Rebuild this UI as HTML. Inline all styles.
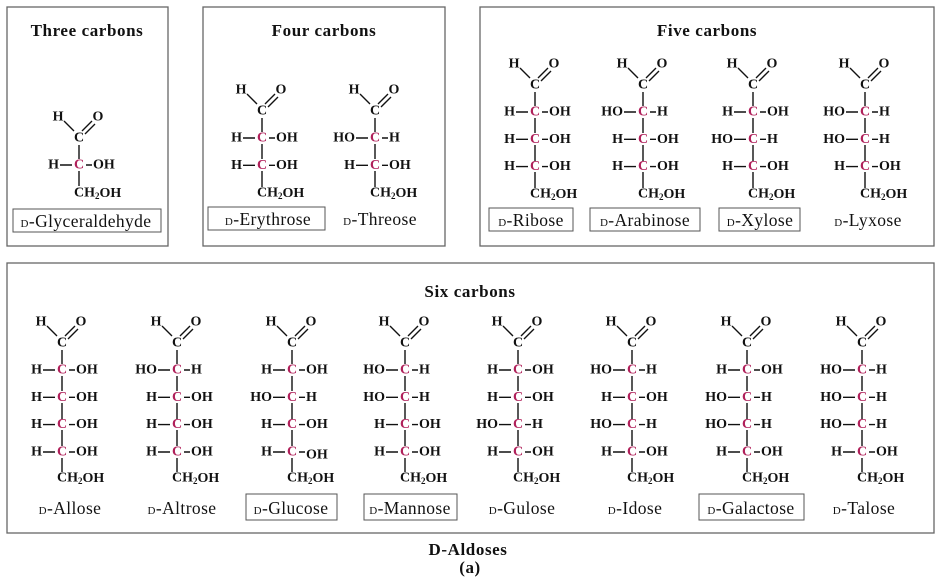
<!DOCTYPE html>
<html><head><meta charset="utf-8"><style>
body{margin:0;background:#fff}
svg{display:block}
text{font-family:"Liberation Serif",serif;fill:#111}
.s text{font-size:14px;font-weight:bold;dominant-baseline:central}
.s .c{fill:#b0205a;text-anchor:middle}
.s .m{text-anchor:middle}
.s .e{text-anchor:end}
.s path{stroke:#111;stroke-width:1.4;fill:none}
.t{font-size:17px;font-weight:bold;text-anchor:middle;letter-spacing:0.6px}
.l{font-size:17.5px;text-anchor:middle;letter-spacing:0.4px}
.l tspan.d{font-size:11px}
.bx{fill:none;stroke:#666;stroke-width:1.3}
.lb{fill:none;stroke:#555;stroke-width:1}
</style></head><body>
<svg width="942" height="584" viewBox="0 0 942 584" xmlns="http://www.w3.org/2000/svg">
<rect class="bx" x="7" y="7" width="161" height="239"/>
<rect class="bx" x="203" y="7" width="242" height="239"/>
<rect class="bx" x="480" y="7" width="454" height="239"/>
<rect class="bx" x="7" y="263" width="927" height="270"/>
<text class="t" x="87" y="36">Three carbons</text>
<text class="t" x="324" y="36">Four carbons</text>
<text class="t" x="707" y="36">Five carbons</text>
<text class="t" x="470" y="297">Six carbons</text>
<text class="t" x="468" y="555">D-Aldoses</text>
<text class="t" x="470" y="573">(a)</text>

<!-- Glyceraldehyde -->
<g class="s" transform="translate(79,117)">
<text class="m" x="-21" y="0">H</text><text class="m" x="19" y="0">O</text><text class="m" x="0" y="21">C</text>
<path d="M-15 4L-5 14M3 14L13 4M6 17L16 7M0 28V42M-19 48H-7M7 48H13M0 54V69"/>
<text class="e" x="-20" y="48">H</text><text class="c" x="0" y="48">C</text><text x="14" y="48">OH</text>
<text x="-5" y="76">CH<tspan font-size="9" dy="3">2</tspan><tspan dy="-3">OH</tspan></text>
</g>
<rect class="lb" x="13" y="209" width="148" height="23"/>
<text class="l" x="86" y="227"><tspan class="d">D</tspan>-Glyceraldehyde</text>

<!-- Erythrose -->
<g class="s" transform="translate(262,90)">
<text class="m" x="-21" y="0">H</text><text class="m" x="19" y="0">O</text><text class="m" x="0" y="21">C</text>
<path d="M-15 4L-5 14M3 14L13 4M6 17L16 7M0 28V42M-19 48H-7M7 48H13M0 54V69M-19 75.3H-7M7 75.3H13M0 81V97"/>
<text class="e" x="-20" y="48">H</text><text class="c" x="0" y="48">C</text><text x="14" y="48">OH</text>
<text class="e" x="-20" y="75.3">H</text><text class="c" x="0" y="75.3">C</text><text x="14" y="75.3">OH</text>
<text x="-5" y="103">CH<tspan font-size="9" dy="3">2</tspan><tspan dy="-3">OH</tspan></text>
</g>
<rect class="lb" x="208" y="207" width="117" height="23"/>
<text class="l" x="268" y="225"><tspan class="d">D</tspan>-Erythrose</text>
<!-- Threose -->
<g class="s" transform="translate(375,90)">
<text class="m" x="-21" y="0">H</text><text class="m" x="19" y="0">O</text><text class="m" x="0" y="21">C</text>
<path d="M-15 4L-5 14M3 14L13 4M6 17L16 7M0 28V42M-19 48H-7M7 48H13M0 54V69M-19 75.3H-7M7 75.3H13M0 81V97"/>
<text class="e" x="-20" y="48">HO</text><text class="c" x="0" y="48">C</text><text x="14" y="48">H</text>
<text class="e" x="-20" y="75.3">H</text><text class="c" x="0" y="75.3">C</text><text x="14" y="75.3">OH</text>
<text x="-5" y="103">CH<tspan font-size="9" dy="3">2</tspan><tspan dy="-3">OH</tspan></text>
</g>
<text class="l" x="380" y="225"><tspan class="d">D</tspan>-Threose</text>

<!-- Five carbons -->
<g class="s" transform="translate(535,64)">
<text class="m" x="-21" y="0">H</text><text class="m" x="19" y="0">O</text><text class="m" x="0" y="21">C</text>
<path d="M-15 4L-5 14M3 14L13 4M6 17L16 7M0 28V42M-19 48H-7M7 48H13M0 54V69M-19 75.3H-7M7 75.3H13M0 81V97M-19 102.6H-7M7 102.6H13M0 108V124"/>
<text class="e" x="-20" y="48">H</text><text class="c" x="0" y="48">C</text><text x="14" y="48">OH</text>
<text class="e" x="-20" y="75.3">H</text><text class="c" x="0" y="75.3">C</text><text x="14" y="75.3">OH</text>
<text class="e" x="-20" y="102.6">H</text><text class="c" x="0" y="102.6">C</text><text x="14" y="102.6">OH</text>
<text x="-5" y="130">CH<tspan font-size="9" dy="3">2</tspan><tspan dy="-3">OH</tspan></text>
</g>
<rect class="lb" x="489" y="208" width="84" height="23"/>
<text class="l" x="531" y="226"><tspan class="d">D</tspan>-Ribose</text>
<g class="s" transform="translate(643,64)">
<text class="m" x="-21" y="0">H</text><text class="m" x="19" y="0">O</text><text class="m" x="0" y="21">C</text>
<path d="M-15 4L-5 14M3 14L13 4M6 17L16 7M0 28V42M-19 48H-7M7 48H13M0 54V69M-19 75.3H-7M7 75.3H13M0 81V97M-19 102.6H-7M7 102.6H13M0 108V124"/>
<text class="e" x="-20" y="48">HO</text><text class="c" x="0" y="48">C</text><text x="14" y="48">H</text>
<text class="e" x="-20" y="75.3">H</text><text class="c" x="0" y="75.3">C</text><text x="14" y="75.3">OH</text>
<text class="e" x="-20" y="102.6">H</text><text class="c" x="0" y="102.6">C</text><text x="14" y="102.6">OH</text>
<text x="-5" y="130">CH<tspan font-size="9" dy="3">2</tspan><tspan dy="-3">OH</tspan></text>
</g>
<rect class="lb" x="590" y="208" width="110" height="23"/>
<text class="l" x="645" y="226"><tspan class="d">D</tspan>-Arabinose</text>
<g class="s" transform="translate(753,64)">
<text class="m" x="-21" y="0">H</text><text class="m" x="19" y="0">O</text><text class="m" x="0" y="21">C</text>
<path d="M-15 4L-5 14M3 14L13 4M6 17L16 7M0 28V42M-19 48H-7M7 48H13M0 54V69M-19 75.3H-7M7 75.3H13M0 81V97M-19 102.6H-7M7 102.6H13M0 108V124"/>
<text class="e" x="-20" y="48">H</text><text class="c" x="0" y="48">C</text><text x="14" y="48">OH</text>
<text class="e" x="-20" y="75.3">HO</text><text class="c" x="0" y="75.3">C</text><text x="14" y="75.3">H</text>
<text class="e" x="-20" y="102.6">H</text><text class="c" x="0" y="102.6">C</text><text x="14" y="102.6">OH</text>
<text x="-5" y="130">CH<tspan font-size="9" dy="3">2</tspan><tspan dy="-3">OH</tspan></text>
</g>
<rect class="lb" x="719" y="208" width="81" height="23"/>
<text class="l" x="760" y="226"><tspan class="d">D</tspan>-Xylose</text>
<g class="s" transform="translate(865,64)">
<text class="m" x="-21" y="0">H</text><text class="m" x="19" y="0">O</text><text class="m" x="0" y="21">C</text>
<path d="M-15 4L-5 14M3 14L13 4M6 17L16 7M0 28V42M-19 48H-7M7 48H13M0 54V69M-19 75.3H-7M7 75.3H13M0 81V97M-19 102.6H-7M7 102.6H13M0 108V124"/>
<text class="e" x="-20" y="48">HO</text><text class="c" x="0" y="48">C</text><text x="14" y="48">H</text>
<text class="e" x="-20" y="75.3">HO</text><text class="c" x="0" y="75.3">C</text><text x="14" y="75.3">H</text>
<text class="e" x="-20" y="102.6">H</text><text class="c" x="0" y="102.6">C</text><text x="14" y="102.6">OH</text>
<text x="-5" y="130">CH<tspan font-size="9" dy="3">2</tspan><tspan dy="-3">OH</tspan></text>
</g>
<text class="l" x="868" y="226"><tspan class="d">D</tspan>-Lyxose</text>

<!-- Six carbons -->
<g class="s" transform="translate(62,322)">
<text class="m" x="-21" y="0">H</text><text class="m" x="19" y="0">O</text><text class="m" x="0" y="21">C</text>
<path d="M-15 4L-5 14M3 14L13 4M6 17L16 7M0 28V42M-19 48H-7M7 48H13M0 54V69M-19 75.3H-7M7 75.3H13M0 81V97M-19 102.6H-7M7 102.6H13M0 108V124M-19 130H-7M7 130H13M0 136V150"/>
<text class="e" x="-20" y="48">H</text><text class="c" x="0" y="48">C</text><text x="14" y="48">OH</text>
<text class="e" x="-20" y="75.3">H</text><text class="c" x="0" y="75.3">C</text><text x="14" y="75.3">OH</text>
<text class="e" x="-20" y="102.6">H</text><text class="c" x="0" y="102.6">C</text><text x="14" y="102.6">OH</text>
<text class="e" x="-20" y="130">H</text><text class="c" x="0" y="130">C</text><text x="14" y="130">OH</text>
<text x="-5" y="156">CH<tspan font-size="9" dy="3">2</tspan><tspan dy="-3">OH</tspan></text>
</g>
<text class="l" x="70" y="514"><tspan class="d">D</tspan>-Allose</text>
<g class="s" transform="translate(177,322)">
<text class="m" x="-21" y="0">H</text><text class="m" x="19" y="0">O</text><text class="m" x="0" y="21">C</text>
<path d="M-15 4L-5 14M3 14L13 4M6 17L16 7M0 28V42M-19 48H-7M7 48H13M0 54V69M-19 75.3H-7M7 75.3H13M0 81V97M-19 102.6H-7M7 102.6H13M0 108V124M-19 130H-7M7 130H13M0 136V150"/>
<text class="e" x="-20" y="48">HO</text><text class="c" x="0" y="48">C</text><text x="14" y="48">H</text>
<text class="e" x="-20" y="75.3">H</text><text class="c" x="0" y="75.3">C</text><text x="14" y="75.3">OH</text>
<text class="e" x="-20" y="102.6">H</text><text class="c" x="0" y="102.6">C</text><text x="14" y="102.6">OH</text>
<text class="e" x="-20" y="130">H</text><text class="c" x="0" y="130">C</text><text x="14" y="130">OH</text>
<text x="-5" y="156">CH<tspan font-size="9" dy="3">2</tspan><tspan dy="-3">OH</tspan></text>
</g>
<text class="l" x="182" y="514"><tspan class="d">D</tspan>-Altrose</text>
<g class="s" transform="translate(292,322)">
<text class="m" x="-21" y="0">H</text><text class="m" x="19" y="0">O</text><text class="m" x="0" y="21">C</text>
<path d="M-15 4L-5 14M3 14L13 4M6 17L16 7M0 28V42M-19 48H-7M7 48H13M0 54V69M-19 75.3H-7M7 75.3H13M0 81V97M-19 102.6H-7M7 102.6H13M0 108V124M-19 130H-7M7 130H13M0 136V150"/>
<text class="e" x="-20" y="48">H</text><text class="c" x="0" y="48">C</text><text x="14" y="48">OH</text>
<text class="e" x="-20" y="75.3">HO</text><text class="c" x="0" y="75.3">C</text><text x="14" y="75.3">H</text>
<text class="e" x="-20" y="102.6">H</text><text class="c" x="0" y="102.6">C</text><text x="14" y="102.6">OH</text>
<text class="e" x="-20" y="130">H</text><text class="c" x="0" y="130">C</text><text x="14" y="133">OH</text>
<text x="-5" y="156">CH<tspan font-size="9" dy="3">2</tspan><tspan dy="-3">OH</tspan></text>
</g>
<rect class="lb" x="246" y="494" width="91" height="26"/>
<text class="l" x="291" y="514"><tspan class="d">D</tspan>-Glucose</text>
<g class="s" transform="translate(405,322)">
<text class="m" x="-21" y="0">H</text><text class="m" x="19" y="0">O</text><text class="m" x="0" y="21">C</text>
<path d="M-15 4L-5 14M3 14L13 4M6 17L16 7M0 28V42M-19 48H-7M7 48H13M0 54V69M-19 75.3H-7M7 75.3H13M0 81V97M-19 102.6H-7M7 102.6H13M0 108V124M-19 130H-7M7 130H13M0 136V150"/>
<text class="e" x="-20" y="48">HO</text><text class="c" x="0" y="48">C</text><text x="14" y="48">H</text>
<text class="e" x="-20" y="75.3">HO</text><text class="c" x="0" y="75.3">C</text><text x="14" y="75.3">H</text>
<text class="e" x="-20" y="102.6">H</text><text class="c" x="0" y="102.6">C</text><text x="14" y="102.6">OH</text>
<text class="e" x="-20" y="130">H</text><text class="c" x="0" y="130">C</text><text x="14" y="130">OH</text>
<text x="-5" y="156">CH<tspan font-size="9" dy="3">2</tspan><tspan dy="-3">OH</tspan></text>
</g>
<rect class="lb" x="364" y="494" width="93" height="26"/>
<text class="l" x="410" y="514"><tspan class="d">D</tspan>-Mannose</text>
<g class="s" transform="translate(518,322)">
<text class="m" x="-21" y="0">H</text><text class="m" x="19" y="0">O</text><text class="m" x="0" y="21">C</text>
<path d="M-15 4L-5 14M3 14L13 4M6 17L16 7M0 28V42M-19 48H-7M7 48H13M0 54V69M-19 75.3H-7M7 75.3H13M0 81V97M-19 102.6H-7M7 102.6H13M0 108V124M-19 130H-7M7 130H13M0 136V150"/>
<text class="e" x="-20" y="48">H</text><text class="c" x="0" y="48">C</text><text x="14" y="48">OH</text>
<text class="e" x="-20" y="75.3">H</text><text class="c" x="0" y="75.3">C</text><text x="14" y="75.3">OH</text>
<text class="e" x="-20" y="102.6">HO</text><text class="c" x="0" y="102.6">C</text><text x="14" y="102.6">H</text>
<text class="e" x="-20" y="130">H</text><text class="c" x="0" y="130">C</text><text x="14" y="130">OH</text>
<text x="-5" y="156">CH<tspan font-size="9" dy="3">2</tspan><tspan dy="-3">OH</tspan></text>
</g>
<text class="l" x="522" y="514"><tspan class="d">D</tspan>-Gulose</text>
<g class="s" transform="translate(632,322)">
<text class="m" x="-21" y="0">H</text><text class="m" x="19" y="0">O</text><text class="m" x="0" y="21">C</text>
<path d="M-15 4L-5 14M3 14L13 4M6 17L16 7M0 28V42M-19 48H-7M7 48H13M0 54V69M-19 75.3H-7M7 75.3H13M0 81V97M-19 102.6H-7M7 102.6H13M0 108V124M-19 130H-7M7 130H13M0 136V150"/>
<text class="e" x="-20" y="48">HO</text><text class="c" x="0" y="48">C</text><text x="14" y="48">H</text>
<text class="e" x="-20" y="75.3">H</text><text class="c" x="0" y="75.3">C</text><text x="14" y="75.3">OH</text>
<text class="e" x="-20" y="102.6">HO</text><text class="c" x="0" y="102.6">C</text><text x="14" y="102.6">H</text>
<text class="e" x="-20" y="130">H</text><text class="c" x="0" y="130">C</text><text x="14" y="130">OH</text>
<text x="-5" y="156">CH<tspan font-size="9" dy="3">2</tspan><tspan dy="-3">OH</tspan></text>
</g>
<text class="l" x="635" y="514"><tspan class="d">D</tspan>-Idose</text>
<g class="s" transform="translate(747,322)">
<text class="m" x="-21" y="0">H</text><text class="m" x="19" y="0">O</text><text class="m" x="0" y="21">C</text>
<path d="M-15 4L-5 14M3 14L13 4M6 17L16 7M0 28V42M-19 48H-7M7 48H13M0 54V69M-19 75.3H-7M7 75.3H13M0 81V97M-19 102.6H-7M7 102.6H13M0 108V124M-19 130H-7M7 130H13M0 136V150"/>
<text class="e" x="-20" y="48">H</text><text class="c" x="0" y="48">C</text><text x="14" y="48">OH</text>
<text class="e" x="-20" y="75.3">HO</text><text class="c" x="0" y="75.3">C</text><text x="14" y="75.3">H</text>
<text class="e" x="-20" y="102.6">HO</text><text class="c" x="0" y="102.6">C</text><text x="14" y="102.6">H</text>
<text class="e" x="-20" y="130">H</text><text class="c" x="0" y="130">C</text><text x="14" y="130">OH</text>
<text x="-5" y="156">CH<tspan font-size="9" dy="3">2</tspan><tspan dy="-3">OH</tspan></text>
</g>
<rect class="lb" x="699" y="494" width="105" height="26"/>
<text class="l" x="751" y="514"><tspan class="d">D</tspan>-Galactose</text>
<g class="s" transform="translate(862,322)">
<text class="m" x="-21" y="0">H</text><text class="m" x="19" y="0">O</text><text class="m" x="0" y="21">C</text>
<path d="M-15 4L-5 14M3 14L13 4M6 17L16 7M0 28V42M-19 48H-7M7 48H13M0 54V69M-19 75.3H-7M7 75.3H13M0 81V97M-19 102.6H-7M7 102.6H13M0 108V124M-19 130H-7M7 130H13M0 136V150"/>
<text class="e" x="-20" y="48">HO</text><text class="c" x="0" y="48">C</text><text x="14" y="48">H</text>
<text class="e" x="-20" y="75.3">HO</text><text class="c" x="0" y="75.3">C</text><text x="14" y="75.3">H</text>
<text class="e" x="-20" y="102.6">HO</text><text class="c" x="0" y="102.6">C</text><text x="14" y="102.6">H</text>
<text class="e" x="-20" y="130">H</text><text class="c" x="0" y="130">C</text><text x="14" y="130">OH</text>
<text x="-5" y="156">CH<tspan font-size="9" dy="3">2</tspan><tspan dy="-3">OH</tspan></text>
</g>
<text class="l" x="864" y="514"><tspan class="d">D</tspan>-Talose</text>
</svg>
</body></html>
